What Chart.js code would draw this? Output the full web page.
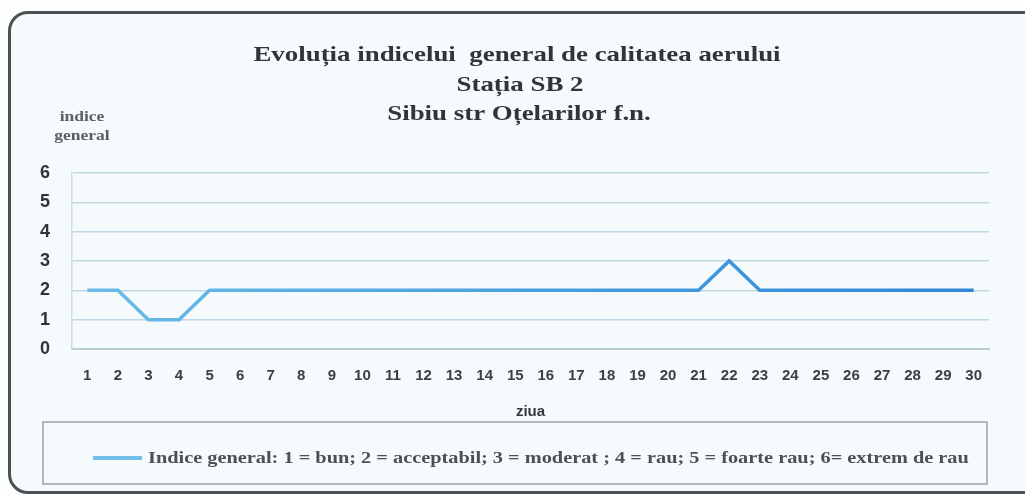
<!DOCTYPE html>
<html>
<head>
<meta charset="utf-8">
<script src="https://cdn.jsdelivr.net/npm/chart.js@4/dist/chart.umd.min.js"></script>
<style>
  html, body { margin:0; padding:0; background:#ffffff; }
  #wrap { position:absolute; left:0; top:0; width:1025px; height:495px; overflow:hidden; background:#fdfefe; }
  #frame { position:absolute; left:8px; top:11px; width:1040px; height:477px; border:3px solid #4d5153; border-radius:20px; background:#f5fafc; }
  #c { position:absolute; left:0; top:0; }
</style>
</head>
<body>
<div id="wrap">
  <div id="frame"></div>
  <canvas id="c" width="1025" height="495"></canvas>
</div>
<script>
const titleLines = ["Evoluția indicelui  general de calitatea aerului", "Stația SB 2", "Sibiu str Oțelarilor f.n."];
const yAxisLabel = ["indice", "general"];
const xAxisLabel = "ziua";
const days = ["1","2","3","4","5","6","7","8","9","10","11","12","13","14","15","16","17","18","19","20","21","22","23","24","25","26","27","28","29","30"];
const indiceGeneral = [2,2,1,1,2,2,2,2,2,2,2,2,2,2,2,2,2,2,2,2,2,3,2,2,2,2,2,2,2,2];
const seriesName = "Indice general: 1 = bun; 2 = acceptabil; 3 = moderat ; 4 = rau; 5 = foarte rau; 6= extrem de rau";
const yTicks = [0,1,2,3,4,5,6];

function stretchedText(ctx, text, x, y, font, sx, align) {
  ctx.save();
  ctx.translate(x, y);
  ctx.scale(sx, 1);
  ctx.font = font;
  ctx.textAlign = align;
  ctx.textBaseline = 'alphabetic';
  ctx.fillText(text, 0, 0);
  ctx.restore();
}

const extras = {
  id: 'extras',
  afterDraw(chart) {
    const ctx = chart.ctx;
    ctx.save();
    // title
    ctx.fillStyle = '#2f3538';
    const tf = 'bold 21px "Liberation Serif", serif';
    stretchedText(ctx, titleLines[0], 517, 61, tf, 1.28, 'center');
    stretchedText(ctx, titleLines[1], 520, 91, tf, 1.28, 'center');
    stretchedText(ctx, titleLines[2], 519, 120, tf, 1.28, 'center');
    // y-axis caption
    ctx.fillStyle = '#5a6064';
    const yf = 'bold 14px "Liberation Serif", serif';
    stretchedText(ctx, yAxisLabel[0], 82, 121, yf, 1.25, 'center');
    stretchedText(ctx, yAxisLabel[1], 82, 140, yf, 1.25, 'center');
    // legend box
    ctx.strokeStyle = '#9aa2a6';
    ctx.lineWidth = 1.5;
    ctx.strokeRect(43, 422, 944, 62);
    // legend entry
    const ds = chart.data.datasets[0];
    ctx.strokeStyle = '#74bfe9';
    ctx.lineWidth = 4;
    ctx.beginPath();
    ctx.moveTo(93, 458);
    ctx.lineTo(142, 458);
    ctx.stroke();
    ctx.fillStyle = '#4a5054';
    stretchedText(ctx, ds.label, 148, 463, 'bold 16px "Liberation Serif", serif', 1.27, 'left');
    ctx.restore();
  }
};

const ctxEl = document.getElementById('c');
const c2d = ctxEl.getContext('2d');
const grad = c2d.createLinearGradient(80, 0, 980, 0);
grad.addColorStop(0, '#6cbce9');
grad.addColorStop(0.45, '#4aa3e0');
grad.addColorStop(1, '#2f86d8');

new Chart(ctxEl, {
  type: 'line',
  data: {
    labels: days,
    datasets: [{
      label: seriesName,
      data: indiceGeneral,
      borderColor: grad,
      backgroundColor: '#4aa6e0',
      borderWidth: 3.5,
      pointRadius: 0,
      tension: 0,
      fill: false
    }]
  },
  options: {
    responsive: false,
    animation: false,
    layout: { padding: { left: 18, right: 36, top: 173, bottom: 74 } },
    plugins: {
      title: { display: false },
      legend: { display: false },
      tooltip: { enabled: false }
    },
    scales: {
      x: {
        offset: true,
        grid: { display: false, drawTicks: false },
        border: { display: true, color: '#b9cdd6', width: 2 },
        ticks: { color: '#3a4044', font: { family: '"Liberation Sans", sans-serif', size: 15, weight: 'bold' }, maxRotation: 0, autoSkip: false, padding: 18 },
        title: { display: true, text: xAxisLabel, color: '#33393c', font: { family: '"Liberation Sans", sans-serif', size: 15, weight: 'bold' }, padding: { top: 0, bottom: 0 } }
      },
      y: {
        min: 0, max: 6,
        afterBuildTicks(axis) { axis.ticks = yTicks.map(v => ({ value: v })); },
        grid: { color: '#bfd8e4', lineWidth: 1.6, drawTicks: false },
        border: { display: true, color: '#cfdde3', width: 1.5 },
        ticks: { color: '#2f3437', font: { family: '"Liberation Sans", sans-serif', size: 18, weight: 'bold' }, padding: 22 }
      }
    }
  },
  plugins: [extras]
});
</script>
</body>
</html>
